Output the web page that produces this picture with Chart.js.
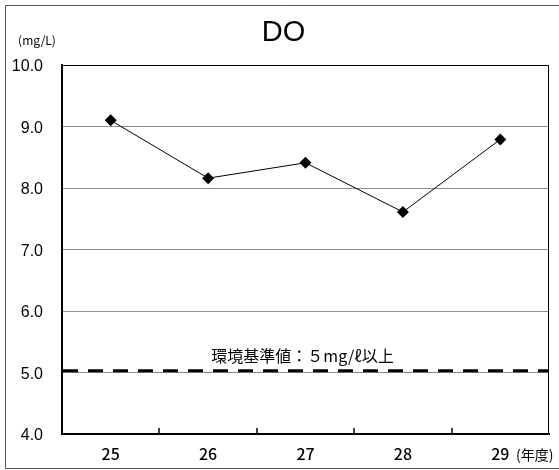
<!DOCTYPE html>
<html lang="ja">
<head>
<meta charset="utf-8">
<title>DO</title>
<script src="https://cdn.jsdelivr.net/npm/chart.js@4/dist/chart.umd.min.js"></script>
<style>
    html, body { margin: 0; padding: 0; background: #fff; }
    #wrap { width: 559px; height: 470px; }
</style>
</head>
<body>
<div id="wrap"><canvas id="doChart" width="559" height="470"></canvas></div>
<script>
// Data
const years = ['25', '26', '27', '28', '29'];
const doValues = [9.1, 8.16, 8.41, 7.61, 8.79];
const yMin = 4;
const yMax = 10;
const yStep = 1;

// environmental standard line (sits a touch above the 5.0 grid line, like the original)
const standardValue = 5.03;
const standardLabel = '環境基準値：５mg/ℓ以上';
const titleText = 'DO';
const unitLabel = '(mg/L)';
const yearLabel = '(年度)';

const jpFont = '"Noto Sans CJK JP", "Noto Sans", sans-serif';
const numFont = '"Liberation Sans", Arial, sans-serif';

// Draws the frame pieces Chart.js doesn't do for us
const framePlugin = {
    id: 'frame',
    beforeDatasetsDraw(chart) {
        const { ctx, chartArea, scales } = chart;
        ctx.save();

        // thin top / right border of the plot area
        ctx.strokeStyle = '#000';
        ctx.lineWidth = 1;
        ctx.beginPath();
        ctx.moveTo(chartArea.left, chartArea.top + 0.5);
        ctx.lineTo(chartArea.right - 0.5, chartArea.top + 0.5);
        ctx.lineTo(chartArea.right - 0.5, chartArea.bottom);
        ctx.stroke();

        // inward tick marks between categories
        const x = scales.x;
        ctx.lineWidth = 1.5;
        for (let i = 0; i < years.length - 1; i++) {
            const px = Math.round((x.getPixelForValue(i) + x.getPixelForValue(i + 1)) / 2);
            ctx.beginPath();
            ctx.moveTo(px, chartArea.bottom);
            ctx.lineTo(px, chartArea.bottom - 6);
            ctx.stroke();
        }

        // dashed standard line
        const sy = scales.y.getPixelForValue(standardValue);
        ctx.setLineDash([15, 10]);
        ctx.lineWidth = 3;
        ctx.beginPath();
        ctx.moveTo(chartArea.left + 1, sy);
        ctx.lineTo(chartArea.right, sy);
        ctx.stroke();
        ctx.setLineDash([]);

        // label above the standard line
        ctx.fillStyle = '#000';
        ctx.font = '16px ' + jpFont;
        ctx.textAlign = 'center';
        ctx.textBaseline = 'middle';
        ctx.fillText(standardLabel, (chartArea.left + chartArea.right) / 2 - 3, sy - 15);

        ctx.restore();
    },
    afterDraw(chart) {
        const { ctx } = chart;
        ctx.save();

        // outer border of the whole picture
        ctx.strokeStyle = '#555';
        ctx.lineWidth = 1;
        ctx.beginPath();
        ctx.moveTo(562, 5.5);
        ctx.lineTo(5.5, 5.5);
        ctx.lineTo(5.5, 468.5);
        ctx.lineTo(562, 468.5);
        ctx.stroke();

        ctx.fillStyle = '#000';
        ctx.textBaseline = 'middle';

        // title
        ctx.font = '29px ' + numFont;
        ctx.textAlign = 'center';
        ctx.fillText(titleText, 283.5, 33);

        // unit label, top left
        ctx.font = '12px ' + jpFont;
        ctx.fillText(unitLabel, 37, 40);

        // year label, bottom right
        ctx.font = '14px ' + jpFont;
        ctx.textAlign = 'left';
        ctx.fillText(yearLabel, 516, 455);

        ctx.restore();
    }
};

const ctx = document.getElementById('doChart').getContext('2d');
new Chart(ctx, {
    type: 'line',
    data: {
        labels: years,
        datasets: [{
            label: 'DO',
            data: doValues,
            borderColor: '#000',
            borderWidth: 1,
            backgroundColor: '#000',
            pointStyle: 'rectRot',
            pointRadius: 6,
            pointBorderWidth: 0,
            pointBackgroundColor: '#000',
            tension: 0,
            fill: false
        }]
    },
    options: {
        responsive: false,
        animation: false,
        layout: {
            padding: { top: 65, left: 0, right: 10, bottom: 0 }
        },
        plugins: {
            legend: { display: false },
            tooltip: { enabled: false },
            title: { display: false }
        },
        scales: {
            x: {
                offset: true,
                grid: { display: false, drawTicks: false },
                border: { display: true, color: '#000', width: 2 },
                ticks: {
                    color: '#000',
                    padding: 10,
                    font: { family: jpFont, size: 16, weight: '500' }
                },
                afterFit(scale) { scale.height = 36; }
            },
            y: {
                min: yMin,
                max: yMax,
                grid: { color: '#8c8c8c', lineWidth: 1, drawTicks: false },
                border: { display: true, color: '#000', width: 2 },
                ticks: {
                    stepSize: yStep,
                    color: '#000',
                    padding: 19,
                    labelOffset: 2,
                    font: { family: numFont, size: 16 },
                    callback: (v) => Number(v).toFixed(1)
                },
                afterFit(scale) { scale.width = 62; }
            }
        }
    },
    plugins: [framePlugin]
});
</script>
</body>
</html>
